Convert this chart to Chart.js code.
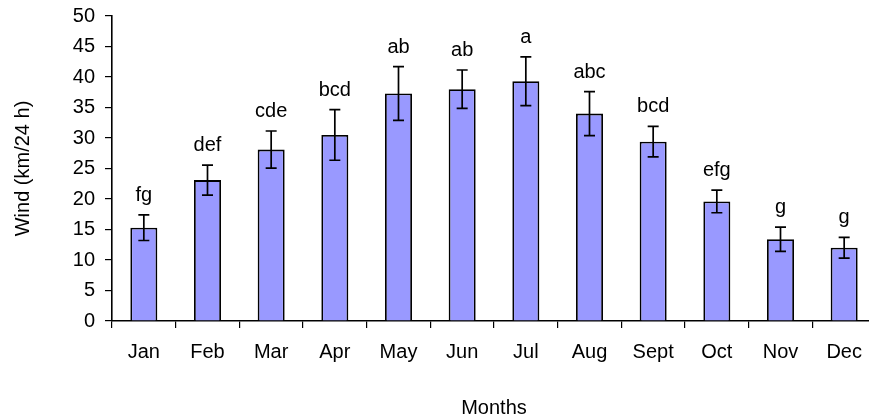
<!DOCTYPE html>
<html>
<head>
<meta charset="utf-8">
<script src="https://cdn.jsdelivr.net/npm/chart.js@4"></script>
<style>
  html, body { margin: 0; padding: 0; background: #ffffff; overflow: hidden; }
  #wrap { position: relative; width: 880px; height: 418px; }
</style>
</head>
<body>
<div id="wrap"><canvas id="windChart"></canvas></div>
<script>
// Monthly mean wind run with standard deviation and significance letters
const months = ['Jan', 'Feb', 'Mar', 'Apr', 'May', 'Jun', 'Jul', 'Aug', 'Sept', 'Oct', 'Nov', 'Dec'];
const windMean = [15.3, 23.1, 28.1, 30.5, 37.3, 38.0, 39.3, 34.0, 29.4, 19.6, 13.4, 12.0];
const windSD = [2.1, 2.45, 3.05, 4.15, 4.4, 3.15, 4.0, 3.6, 2.5, 1.85, 2.0, 1.7];
const groupLetters = ['fg', 'def', 'cde', 'bcd', 'ab', 'ab', 'a', 'abc', 'bcd', 'efg', 'g', 'g'];
const yTicks = [0, 5, 10, 15, 20, 25, 30, 35, 40, 45, 50];

const FONT = 'Liberation Sans, Arial, sans-serif';

// Error bars (mean ± SD) and the letter above each one
const errorBarPlugin = {
  id: 'errorBars',
  afterDatasetsDraw(chart) {
    const ctx = chart.ctx;
    const meta = chart.getDatasetMeta(0);
    const y = chart.scales.y;
    ctx.save();
    ctx.strokeStyle = '#000000';
    ctx.lineWidth = 1.7;
    ctx.fillStyle = '#000000';
    ctx.font = '20px ' + FONT;
    ctx.textAlign = 'center';
    ctx.textBaseline = 'alphabetic';
    meta.data.forEach((bar, i) => {
      const x = bar.x;
      const top = y.getPixelForValue(windMean[i] + windSD[i]);
      const bot = y.getPixelForValue(windMean[i] - windSD[i]);
      const cap = 5.5;
      ctx.beginPath();
      ctx.moveTo(x, top); ctx.lineTo(x, bot);
      ctx.moveTo(x - cap, top); ctx.lineTo(x + cap, top);
      ctx.moveTo(x - cap, bot); ctx.lineTo(x + cap, bot);
      ctx.stroke();
      ctx.fillText(groupLetters[i], x, top - 14);
    });
    ctx.restore();
  }
};

new Chart(document.getElementById('windChart'), {
  type: 'bar',
  data: {
    labels: months,
    datasets: [{
      data: windMean,
      backgroundColor: '#9999FF',
      borderColor: '#000000',
      borderWidth: 1.8,
      categoryPercentage: 1.0,
      barPercentage: 0.424
    }]
  },
  options: {
    responsive: true,
    maintainAspectRatio: false,
    animation: false,
    devicePixelRatio: 1,
    layout: { padding: { top: 16, right: 4, bottom: 0, left: 0 } },
    plugins: {
      legend: { display: false },
      tooltip: { enabled: false }
    },
    scales: {
      x: {
        grid: {
          display: true,
          drawOnChartArea: false,
          drawTicks: true,
          tickLength: 7,
          color: '#000000',
          lineWidth: 1.2
        },
        border: { display: true, color: '#000000', width: 1.6 },
        ticks: {
          color: '#000000',
          font: { family: FONT, size: 20, lineHeight: 1 },
          padding: 14,
          maxRotation: 0,
          autoSkip: false
        },
        title: {
          display: true,
          text: 'Months',
          color: '#000000',
          font: { family: FONT, size: 20, lineHeight: 1 },
          padding: { top: 0, bottom: 0 }
        },
        afterFit(scale) {
          scale.height = 97;
          scale.paddingLeft = 0;
          scale.paddingRight = 0;
        }
      },
      y: {
        min: 0,
        max: 50,
        afterBuildTicks(scale) { scale.ticks = yTicks.map(v => ({ value: v })); },
        grid: {
          display: true,
          drawOnChartArea: false,
          drawTicks: true,
          tickLength: 7,
          color: '#000000',
          lineWidth: 1.2
        },
        border: { display: true, color: '#000000', width: 1.6 },
        ticks: {
          color: '#000000',
          font: { family: FONT, size: 20 },
          padding: 10
        },
        title: {
          display: true,
          text: 'Wind (km/24 h)',
          color: '#000000',
          font: { family: FONT, size: 20, lineHeight: 1 },
          padding: { top: 13, bottom: 0 }
        },
        afterFit(scale) {
          scale.width = 112;
          scale.paddingTop = 0;
          scale.paddingBottom = 0;
        }
      }
    }
  },
  plugins: [errorBarPlugin]
});
</script>
</body>
</html>
